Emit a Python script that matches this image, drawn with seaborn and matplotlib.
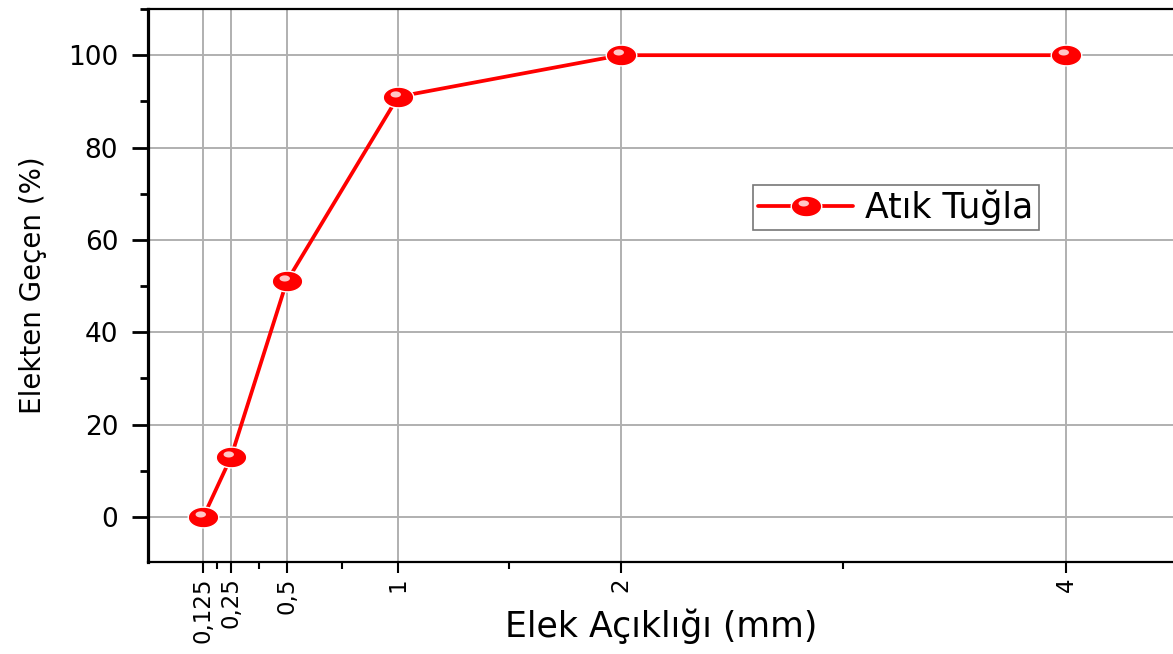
import numpy as np
import pandas as pd
import matplotlib
matplotlib.use("Agg")
import matplotlib.pyplot as plt
import seaborn as sns
from matplotlib.path import Path
from matplotlib.ticker import FixedLocator, MultipleLocator
from matplotlib.legend_handler import HandlerTuple

# ---- data ----
sieve_mm = [0.125, 0.25, 0.5, 1, 2, 4]
passing_pct = [0, 13, 51, 91, 100, 100]
x_tick_labels = ["0,125", "0,25", "0,5", "1", "2", "4"]
series_name = "Atık Tuğla"
x_label = "Elek Açıklığı (mm)"
y_label = "Elekten Geçen (%)"

df = pd.DataFrame({"sieve": sieve_mm, "passing": passing_pct})

sns.set_style("ticks")
plt.rcParams["font.family"] = ["DejaVu Sans"]
plt.rcParams["text.color"] = "black"
plt.rcParams["axes.labelcolor"] = "black"
plt.rcParams["xtick.color"] = "black"
plt.rcParams["ytick.color"] = "black"

fig = plt.figure(figsize=(11.73, 6.54), dpi=100)
ax = fig.add_axes([148 / 1173, 1 - 562 / 654, 1 - 148 / 1173, (562 - 9) / 654])

# elliptical marker paths (main body + highlight)
t = np.linspace(0, 2 * np.pi, 60)
body = Path(np.column_stack([np.cos(t), 0.68 * np.sin(t)]), closed=True)
hl_verts = np.column_stack([-0.18 + 0.34 * np.cos(t), 0.2 + 0.2 * np.sin(t)])
highlight = Path(hl_verts, closed=True)
hl_scale = np.max(np.abs(hl_verts))

ms = 22
sns.lineplot(data=df, x="sieve", y="passing", ax=ax, color="#ff0000", lw=2.7,
             marker=body, markersize=ms, markerfacecolor="#ff0000",
             markeredgecolor="white", markeredgewidth=1.0, zorder=3,
             label=series_name, legend=False)
main_line = ax.get_lines()[-1]
hl_line, = ax.plot(df["sieve"], df["passing"], linestyle="none", marker=highlight,
                   markersize=ms * hl_scale, markerfacecolor="#ffdede",
                   markeredgewidth=0, alpha=0.9, zorder=4)

ax.set_xlim(-0.123, 4.48)
ax.set_ylim(-9.74, 110)

ax.xaxis.set_major_locator(FixedLocator(sieve_mm))
ax.set_xticklabels(x_tick_labels, rotation=90, fontsize=16.5)
ax.xaxis.set_minor_locator(FixedLocator([0.1875, 0.375, 0.75, 1.5, 3]))
ax.yaxis.set_major_locator(MultipleLocator(20))
ax.yaxis.set_minor_locator(MultipleLocator(10))
ax.set_yticks(np.arange(0, 101, 20))
ax.set_yticklabels([str(v) for v in range(0, 101, 20)])
ax.tick_params(axis="y", which="major", labelsize=19, length=11.5, width=2, pad=10)
ax.tick_params(axis="y", which="minor", length=6, width=2)
ax.tick_params(axis="x", which="major", length=8, width=1.5, pad=3)
ax.tick_params(axis="x", which="minor", length=5, width=1.5)

ax.grid(True, which="major", color="#b0b0b0", lw=1.4)
ax.set_axisbelow(True)

ax.spines["left"].set_linewidth(2.3)
ax.spines["bottom"].set_linewidth(1.6)
ax.spines["top"].set_linewidth(1.6)
ax.spines["right"].set_visible(False)
for s in ax.spines.values():
    s.set_color("black")

ax.set_xlabel(x_label, fontsize=25, va="baseline")
ax.set_ylabel(y_label, fontsize=20, va="baseline")
ax.xaxis.set_label_coords(0.501, -0.1356)
ax.yaxis.set_label_coords(-0.1044, 0.501)

leg = ax.legend([(main_line, hl_line)], [series_name],
                handler_map={tuple: HandlerTuple(ndivide=1)},
                loc="upper left", bbox_to_anchor=(753 / 1173, 1 - 185 / 654),
                bbox_transform=fig.transFigure, fontsize=25, frameon=True,
                fancybox=False, borderaxespad=0, borderpad=0.14,
                handlelength=2.75, handletextpad=0.35, numpoints=1)
leg.get_frame().set_edgecolor("#555555")
leg.get_frame().set_linewidth(1.2)

fig.savefig("out.png", dpi=100)
